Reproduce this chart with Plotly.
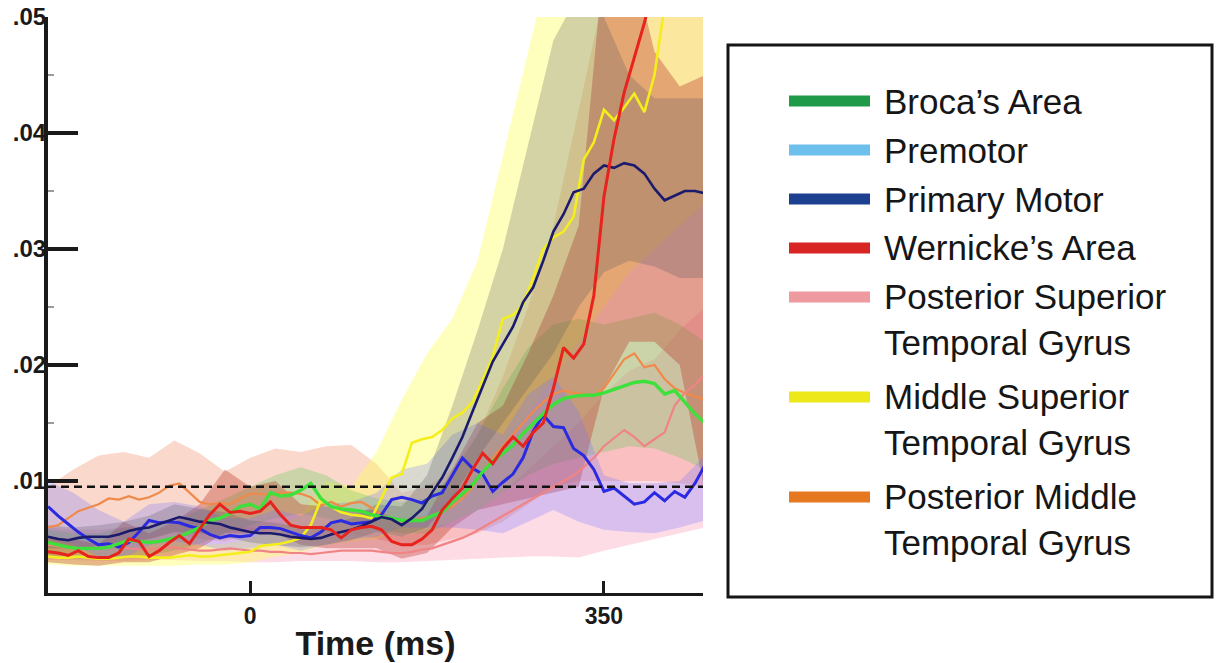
import plotly.graph_objects as go

# ---------------- data ----------------
T_LINE = [-200, -190, -180, -170, -160, -150, -140, -130, -120, -110,
          -100, -90, -80, -70, -60, -50, -40, -30, -20, -10,
          0, 10, 20, 30, 40, 50, 60, 70, 80, 90,
          100, 110, 120, 130, 140, 150, 160, 170, 180, 190,
          200, 210, 220, 230, 240, 250, 260, 270, 280, 290,
          300, 310, 320, 330, 340, 350, 360, 370, 380, 390,
          400, 410, 420, 430, 440, 450]

T_BAND = [-200, -175, -150, -125, -100, -75, -50, -25, 0, 25, 50, 75, 100,
          125, 150, 175, 200, 225, 250, 275, 300, 325, 350, 375, 400, 425, 450]

BROCA = [.0047, .0045, .0043, .0042, .0042, .0042, .0043, .0046, .0049, .0048,
         .0047, .0048, .0050, .0052, .0056, .0060, .0066, .0068, .0072, .0078,
         .0080, .0076, .0090, .0087, .0088, .0092, .0098, .0085, .0078, .0076,
         .0075, .0074, .0071, .0069, .0068, .0066, .0066, .0066, .0070, .0073,
         .0082, .0089, .0097, .0108, .0117, .0124, .0131, .0141, .0150, .0158,
         .0166, .0171, .0173, .0174, .0174, .0176, .0179, .0182, .0185, .0186,
         .0184, .0175, .0178, .0168, .0158, .0150]
PREMOTOR = [.0078, .0070, .0063, .0056, .0050, .0045, .0046, .0043, .0047, .0056,
            .0066, .0064, .0065, .0064, .0061, .0059, .0054, .0051, .0053, .0052,
            .0053, .0060, .0060, .0059, .0056, .0053, .0051, .0056, .0064, .0066,
            .0063, .0064, .0065, .0071, .0084, .0086, .0084, .0081, .0087, .0090,
            .0105, .0120, .0111, .0106, .0091, .0099, .0106, .0120, .0143, .0157,
            .0147, .0146, .0128, .0122, .0110, .0091, .0094, .0087, .0080, .0082,
            .0090, .0083, .0091, .0086, .0098, .0114]
PRIMARY = [.0052, .0050, .0049, .0051, .0052, .0052, .0052, .0054, .0057, .0059,
           .0060, .0063, .0066, .0069, .0067, .0065, .0064, .0063, .0060, .0058,
           .0056, .0055, .0055, .0054, .0052, .0051, .0050, .0051, .0054, .0056,
           .0058, .0061, .0065, .0069, .0067, .0062, .0068, .0076, .0090, .0103,
           .0120, .0138, .0160, .0182, .0203, .0218, .0233, .0254, .0267, .0290,
           .0315, .0330, .0349, .0352, .0365, .0372, .0370, .0374, .0372, .0365,
           .0352, .0342, .0346, .0350, .0350, .0348]
WERNICKE = [.0039, .0038, .0036, .0040, .0035, .0034, .0034, .0038, .0050, .0048,
            .0035, .0040, .0047, .0053, .0046, .0058, .0071, .0080, .0073, .0074,
            .0072, .0074, .0082, .0071, .0062, .0060, .0060, .0060, .0058, .0051,
            .0058, .0060, .0061, .0058, .0048, .0045, .0045, .0050, .0058, .0075,
            .0085, .0094, .0110, .0124, .0115, .0128, .0138, .0130, .0142, .0150,
            .0180, .0215, .0206, .0218, .0260, .0345, .0395, .0435, .0465, .0495,
            .0530, .0560, .0590, .0620, .0650, .0680]
PSTG = [.0045, .0044, .0043, .0042, .0042, .0043, .0044, .0043, .0042, .0041,
        .0041, .0042, .0043, .0042, .0041, .0040, .0040, .0041, .0042, .0041,
        .0040, .0040, .0039, .0039, .0038, .0038, .0037, .0038, .0039, .0040,
        .0040, .0040, .0040, .0039, .0038, .0038, .0039, .0041, .0042, .0045,
        .0048, .0051, .0055, .0060, .0065, .0070, .0075, .0080, .0085, .0090,
        .0095, .0100, .0105, .0112, .0120, .0130, .0137, .0144, .0138, .0130,
        .0136, .0142, .0165, .0176, .0183, .0192]
MSTG = [.0035, .0034, .0034, .0035, .0034, .0033, .0033, .0034, .0035, .0035,
        .0034, .0034, .0034, .0035, .0036, .0035, .0035, .0036, .0037, .0038,
        .0039, .0044, .0045, .0046, .0048, .0051, .0062, .0084, .0078, .0073,
        .0071, .0070, .0068, .0086, .0103, .0106, .0133, .0136, .0138, .0144,
        .0154, .0159, .0168, .0187, .0207, .0240, .0243, .0252, .0275, .0300,
        .0310, .0315, .0328, .0377, .0392, .0420, .0411, .0422, .0434, .0418,
        .0450, .0510, .0560, .0600, .0650, .0700]
PMTG = [.0060, .0062, .0068, .0074, .0077, .0080, .0085, .0084, .0087, .0084,
        .0086, .0090, .0096, .0098, .0090, .0082, .0080, .0081, .0080, .0085,
        .0089, .0089, .0088, .0090, .0090, .0089, .0086, .0079, .0082, .0078,
        .0081, .0082, .0077, .0071, .0067, .0065, .0066, .0068, .0070, .0074,
        .0078, .0085, .0095, .0108, .0120, .0130, .0140, .0150, .0160, .0168,
        .0175, .0178, .0176, .0175, .0174, .0180, .0192, .0205, .0210, .0198,
        .0200, .0188, .0180, .0176, .0173, .0170]

BROCA_LO = [.0035, .0033, .0033, .0035, .0036, .0040, .0046, .0055, .0062, .0068, .0072, .0068, .0062,
            .0058, .0055, .0055, .0065, .0075, .0090, .0105, .0115, .0120, .0125, .0130, .0128, .0120, .0110]
BROCA_HI = [.0058, .0055, .0055, .0060, .0060, .0065, .0075, .0085, .0095, .0105, .0112, .0105, .0092,
            .0085, .0082, .0085, .0105, .0140, .0180, .0215, .0235, .0240, .0235, .0240, .0245, .0235, .0220]
PREMOTOR_LO = [.0050, .0045, .0035, .0033, .0045, .0048, .0045, .0040, .0042, .0045, .0040, .0045, .0050,
               .0052, .0060, .0060, .0060, .0058, .0055, .0065, .0075, .0065, .0058, .0056, .0055, .0060, .0066]
PREMOTOR_HI = [.0100, .0090, .0075, .0065, .0080, .0082, .0078, .0068, .0068, .0075, .0070, .0080, .0082,
               .0090, .0110, .0115, .0140, .0150, .0140, .0175, .0190, .0160, .0105, .0098, .0098, .0100, .0122]
PRIMARY_LO = [.0042, .0042, .0043, .0046, .0050, .0056, .0055, .0052, .0047, .0045, .0043, .0045, .0049,
              .0056, .0052, .0060, .0085, .0120, .0150, .0180, .0210, .0250, .0280, .0290, .0285, .0275, .0275]
PRIMARY_HI = [.0062, .0060, .0062, .0065, .0070, .0080, .0076, .0073, .0066, .0064, .0060, .0062, .0068,
              .0080, .0078, .0105, .0165, .0230, .0300, .0390, .0480, .0520, .0500, .0450, .0430, .0430, .0430]
WERNICKE_LO = [.0030, .0028, .0027, .0030, .0030, .0036, .0042, .0055, .0055, .0055, .0045, .0042, .0042,
               .0042, .0033, .0038, .0060, .0075, .0080, .0085, .0090, .0095, .0180, .0220, .0220, .0200, .0090]
WERNICKE_HI = [.0052, .0050, .0045, .0065, .0055, .0065, .0080, .0110, .0095, .0100, .0080, .0078, .0075,
               .0075, .0065, .0070, .0110, .0150, .0165, .0210, .0260, .0320, .0550, .0560, .0470, .0440, .0450]
PSTG_LO = [.0032, .0032, .0031, .0031, .0032, .0032, .0031, .0031, .0030, .0030, .0031, .0031, .0031,
           .0030, .0030, .0031, .0032, .0033, .0034, .0035, .0035, .0034, .0040, .0045, .0050, .0055, .0060]
PSTG_HI = [.0060, .0058, .0058, .0060, .0062, .0065, .0065, .0062, .0060, .0058, .0058, .0056, .0056,
           .0055, .0052, .0058, .0065, .0075, .0090, .0110, .0130, .0150, .0175, .0195, .0205, .0230, .0250]
MSTG_LO = [.0028, .0027, .0027, .0027, .0027, .0027, .0028, .0028, .0030, .0035, .0038, .0045, .0048,
           .0050, .0060, .0075, .0090, .0105, .0130, .0160, .0190, .0220, .0250, .0280, .0300, .0320, .0340]
MSTG_HI = [.0045, .0043, .0042, .0043, .0043, .0044, .0045, .0046, .0050, .0060, .0070, .0100, .0095,
           .0125, .0170, .0210, .0240, .0290, .0380, .0470, .0560, .0650, .0700, .0720, .0740, .0760, .0780]
PMTG_LO = [.0035, .0040, .0045, .0048, .0050, .0055, .0050, .0048, .0055, .0058, .0060, .0055, .0055,
           .0050, .0045, .0045, .0050, .0055, .0065, .0080, .0095, .0100, .0100, .0100, .0100, .0098, .0095]
PMTG_HI = [.0095, .0110, .0122, .0125, .0120, .0135, .0124, .0108, .0120, .0128, .0125, .0130, .0131,
           .0115, .0090, .0095, .0110, .0140, .0190, .0250, .0320, .0420, .0520, .0550, .0560, .0560, .0560]

THRESHOLD = 0.0095
X_TICKS = [0, 350]
X_TICK_TEXT = ["0", "350"]
Y_TICKS = [0.01, 0.02, 0.03, 0.04, 0.05]
Y_TICK_TEXT = [".01", ".02", ".03", ".04", ".05"]
Y_MINOR = [0.015, 0.025, 0.035, 0.045]

NAMES = ["Broca’s Area", "Premotor", "Primary Motor", "Wernicke’s Area",
         "Posterior Superior<br>Temporal Gyrus", "Middle Superior<br>Temporal Gyrus",
         "Posterior Middle<br>Temporal Gyrus"]
LEGEND_COLORS = ["#1f9a48", "#6ec0ec", "#1d3f8f", "#d92424", "#ee9aa0", "#ece81a", "#e67820"]

# ---------------- figure ----------------
FONT = "Liberation Sans, Arial, sans-serif"
W, H = 1218, 663
ML, MR, MT, MB = 48, 515, 17, 70
PW, PH = W - ML - MR, H - MT - MB


def px_x(x):
    return (x - ML) / PW


def px_y(y):
    return (H - MB - y) / PH


fig = go.Figure()

# shaded bands (drawn first)
bands = [
    (PMTG_LO, PMTG_HI, "rgba(240,125,85,0.30)"),
    (PSTG_LO, PSTG_HI, "rgba(250,130,165,0.28)"),
    (MSTG_LO, MSTG_HI, "rgba(255,255,90,0.40)"),
    (BROCA_LO, BROCA_HI, "rgba(70,200,70,0.26)"),
    (WERNICKE_LO, WERNICKE_HI, "rgba(185,55,40,0.36)"),
    (PREMOTOR_LO, PREMOTOR_HI, "rgba(120,120,255,0.28)"),
    (PRIMARY_LO, PRIMARY_HI, "rgba(85,85,95,0.26)"),
]
for lo, hi, col in bands:
    fig.add_trace(go.Scatter(
        x=T_BAND + T_BAND[::-1], y=hi + lo[::-1], fill="toself",
        fillcolor=col, line=dict(width=0), mode="lines",
        showlegend=False, hoverinfo="skip"))

# mean lines
lines = [
    (PMTG, "#ef8a4a", 2.2),
    (PSTG, "#f08484", 2.2),
    (MSTG, "#f4ee1c", 2.6),
    (PREMOTOR, "#2a2ae0", 3.0),
    (BROCA, "#3ee03c", 3.4),
    (PRIMARY, "#1b1b6e", 2.6),
    (WERNICKE, "#e8221c", 3.0),
]
for ys, col, w in lines:
    fig.add_trace(go.Scatter(x=T_LINE, y=ys, mode="lines",
                             line=dict(color=col, width=w),
                             showlegend=False, hoverinfo="skip"))

shapes = [
    dict(type="line", xref="paper", yref="y", x0=0, x1=1, y0=THRESHOLD, y1=THRESHOLD,
         line=dict(color="#111111", width=2.5, dash="8px,5px")),
    dict(type="rect", xref="paper", yref="paper",
         x0=px_x(728), x1=px_x(1212), y0=px_y(597), y1=px_y(45),
         line=dict(color="#151515", width=3), fillcolor="rgba(0,0,0,0)"),
]
annotations = []
y_line = 101
for name, col in zip(NAMES, LEGEND_COLORS):
    n = name.count("<br>") + 1
    shapes.append(dict(type="rect", xref="paper", yref="paper",
                       x0=px_x(789), x1=px_x(870), y0=px_y(y_line + 5.5), y1=px_y(y_line - 5.5),
                       line=dict(width=0), fillcolor=col))
    annotations.append(dict(xref="paper", yref="paper", x=px_x(882),
                            y=px_y(y_line + 22.75 * (n - 1)), xanchor="left", yanchor="middle",
                            text=name, showarrow=False, align="left",
                            font=dict(family=FONT, size=35, color="#161616")))
    y_line += 49 + 51 * (n - 1)

fig.update_layout(
    width=W, height=H,
    margin=dict(l=ML, r=MR, t=MT, b=MB),
    paper_bgcolor="white", plot_bgcolor="white",
    font=dict(family=FONT, color="#1a1a1a"),
    showlegend=False,
    shapes=shapes, annotations=annotations,
    xaxis=dict(range=[-200, 448], showgrid=False, zeroline=False, automargin=False,
               showline=True, linecolor="#1a1a1a", linewidth=3,
               ticks="inside", ticklen=12, tickwidth=3, tickcolor="#1a1a1a",
               tickmode="array", tickvals=X_TICKS,
               ticktext=["<b>%s</b>" % t for t in X_TICK_TEXT],
               tickfont=dict(family=FONT, size=23, color="#1a1a1a"),
               title=dict(text="<b>Time (ms)</b>", standoff=4,
                          font=dict(family=FONT, size=34, color="#1a1a1a"))),
    yaxis=dict(range=[0.00035, 0.05], showgrid=False, zeroline=False, automargin=False,
               showline=True, linecolor="#1a1a1a", linewidth=4,
               ticks="inside", ticklen=30, tickwidth=4, tickcolor="#1a1a1a",
               tickmode="array", tickvals=Y_TICKS,
               ticktext=["<b>%s</b>" % t for t in Y_TICK_TEXT],
               tickfont=dict(family=FONT, size=24, color="#1a1a1a"),
               ticklabelstandoff=-7,
               minor=dict(tickmode="array", tickvals=Y_MINOR, ticks="inside",
                          ticklen=6, tickwidth=1.5, tickcolor="#9a9a9a")),
)

fig.write_html("out.html")
